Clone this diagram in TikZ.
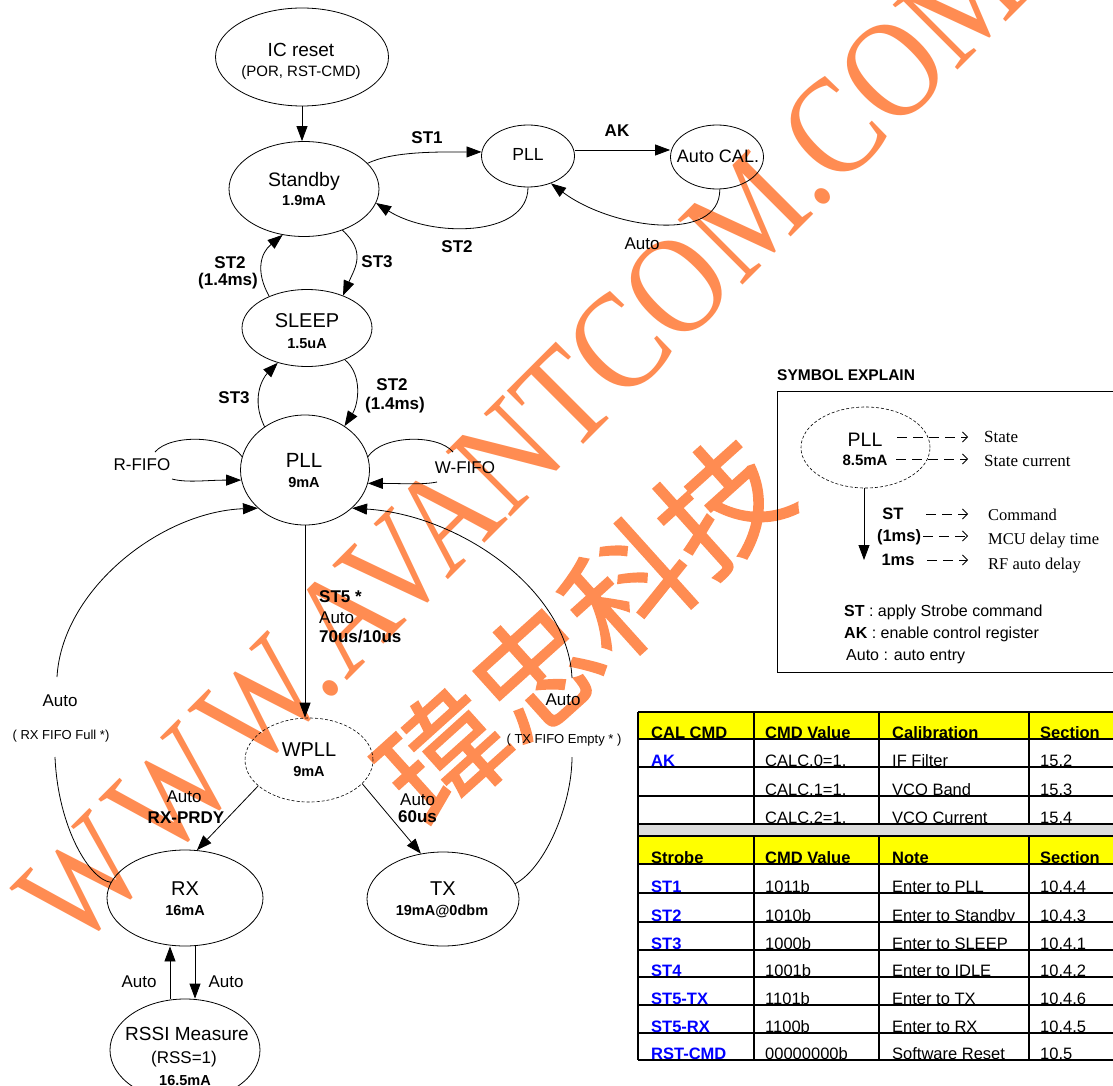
\documentclass[tikz,border=0pt]{standalone}
\usepackage{graphicx}
\usepackage{fontspec}
\setmainfont{Liberation Sans}
\newfontfamily\serifT{Liberation Serif}
\newfontfamily\cjk[FakeBold=1.2]{Noto Sans CJK TC}
\usetikzlibrary{shapes.geometric,arrows.meta,calc}
\definecolor{wmorange}{RGB}{255,140,82}
\definecolor{tblue}{RGB}{0,0,255}
\definecolor{tyellow}{RGB}{255,255,0}
\definecolor{tgray}{RGB}{220,220,220}
\newcommand\fsz[1]{\fontsize{#1}{#1}\selectfont}
\begin{document}
\begin{tikzpicture}[x=1pt,y=-1pt,
  stateE/.style={draw, ellipse, inner sep=0pt, line width=0.8pt},
  dashE/.style={stateE, dash pattern=on 3pt off 2pt, line width=0.6pt},
  arr/.style={-{Triangle[length=15pt,width=11pt]}, line width=0.8pt},
  ln/.style={line width=0.8pt},
  dsh/.style={line width=0.8pt, dash pattern=on 10pt off 6pt, -{Straight Barb[length=5pt,width=10pt]}},
  txt/.style={inner sep=0pt, anchor=base},
  nm/.style={txt, font=\fsz{20}},
  cur/.style={txt, font=\fsz{14.5}\bfseries},
  lab/.style={txt, font=\fsz{17}\bfseries},
  alab/.style={txt, font=\fsz{17}},
  small/.style={txt, font=\fsz{13}},
  serifl/.style={txt, anchor=base west, font=\serifT\fsz{17}},
  tbl/.style={txt, anchor=base west, font=\fsz{16.5}},
  tbh/.style={tbl, font=\fsz{16.5}\bfseries},
  tbb/.style={tbl, font=\fsz{16.5}\bfseries, text=tblue},
  wmtxt/.style={inner sep=0pt, text=wmorange, font=\serifT\fsz{140}},
  wmcjk/.style={inner sep=0pt, text=wmorange, font=\cjk\fsz{125}},
  grid/.style={line width=1.6pt}
]
\useasboundingbox (0,0) rectangle (1113,1086);
\clip (0,0) rectangle (1113,1086);
\fill[white] (0,0) rectangle (1113,1086);

% ---------- watermark ----------
\node[wmtxt, rotate=45, anchor=base east] (wmA) at (346,682) {\scalebox{0.86}[1]{W\kern14pt W\kern14pt W.}};
\node[wmtxt, rotate=45, anchor=base west] (wmB) at (346,682) {\scalebox{0.86}[1]{AVANTCOM.COM}};
\node[wmcjk, rotate=42] (wmC) at (582,630) {瑋忠科技};

% ---------- states ----------
\node[stateE, minimum width=173pt, minimum height=98pt] (icr) at (302,57) {};
\node[stateE, minimum width=150pt, minimum height=95pt] (stb) at (304,189) {};
\node[stateE, minimum width=93pt, minimum height=62pt] (pllt) at (528,156) {};
\node[stateE, minimum width=93pt, minimum height=64pt] (acal) at (717,157) {};
\node[stateE, minimum width=130pt, minimum height=77pt] (slp) at (307,328) {};
\node[stateE, minimum width=129pt, minimum height=110pt] (pll) at (305,470) {};
\node[dashE, minimum width=128pt, minimum height=84pt] (wpll) at (309,760) {};
\node[stateE, minimum width=156pt, minimum height=96pt] (rx) at (185,898) {};
\node[stateE, minimum width=152pt, minimum height=94pt] (tx) at (443,899) {};
\node[stateE, minimum width=150pt, minimum height=102pt] (rssi) at (185,1050) {};

% state texts
\node[txt, font=\fsz{19}] (icrT) at (301,57) {IC reset};
\node[txt, font=\fsz{15}] (icrS) at (301,77) {(POR, RST-CMD)};
\node[txt, font=\fsz{19.5}] (stbT) at (304,186) {Standby};
\node[cur] (stbC) at (304,206) {1.9mA};
\node[txt, font=\fsz{17.5}] (plltT) at (528,161) {PLL};
\node[txt, font=\fsz{18}] (acalT) at (718,163) {Auto CAL.};
\node[nm] (slpT) at (307,327) {SLEEP};
\node[cur] (slpC) at (307,348) {1.5uA};
\node[txt, font=\fsz{20.5}] (pllT) at (304,467) {PLL};
\node[cur] (pllC) at (304,487) {9mA};
\node[nm] (wpllT) at (309,756) {WPLL};
\node[cur] (wpllC) at (309,776) {9mA};
\node[nm] (rxT) at (185,895) {RX};
\node[cur] (rxC) at (185,915) {16mA};
\node[nm] (txT) at (443,895) {TX};
\node[cur] (txC) at (442,915) {19mA@0dbm};
\node[txt, font=\fsz{19}] (rssiT) at (187,1040) {RSSI Measure};
\node[txt, font=\fsz{17}] (rssiS) at (184,1063) {(RSS=1)};
\node[cur] (rssiC) at (185,1085) {16.5mA};

% ---------- connectors ----------
\draw[arr] (icr.south) -- (icr.south |- stb.north);
\draw[arr] (stb.22) .. controls +(25,-12) and +(-45,0) .. (pllt.175);
\draw[arr] (pllt.south) .. controls +(0,50) and +(55,35) .. (stb.-11);
\draw[arr] ([yshift=6pt]pllt.east) -- ([yshift=6pt]pllt.east -| acal.west);
\draw[arr] (acal.-85) .. controls +(0,55) and +(60,45) .. (pllt.-50);
\draw[arr] (stb.-47) .. controls +(24,22) and +(12,-28) .. (slp.42);
\draw[arr] (slp.140) .. controls +(-14,-25) and +(-22,18) .. (stb.-115);
\draw[arr] (pll.133) .. controls +(-14,-28) and +(-15,15) .. (slp.-130);
\draw[arr] (slp.-40) .. controls +(18,15) and +(14,-22) .. (pll.48);

% R-FIFO / W-FIFO loops
\coordinate (rfA) at (155,452); \coordinate (rfB) at (172,479);
\draw[ln] (pll.168) .. controls +(-15,-22) and +(15,-18) .. (rfA);
\draw[arr] (rfB) .. controls +(15,4) and +(-35,0) .. (pll.-171);
\coordinate (wfA) at (453,452); \coordinate (wfB) at (437,482);
\draw[ln] (pll.12) .. controls +(15,-22) and +(-15,-18) .. (wfA);
\draw[arr] (wfB) .. controls +(-15,3) and +(35,0) .. (pll.-12);

% PLL -> WPLL
\draw[arr] (pll.south) -- (pll.south |- wpll.north);

% big side arcs
\coordinate (laTop) at (57,677); \coordinate (laBot) at (55,757);
\draw[arr] (laTop) .. controls (62,590) and (160,512) .. (pll.-141);
\draw[ln] (rx.168) .. controls (90,880) and (58,828) .. (laBot);
\coordinate (raTop) at (572,678); \coordinate (raBot) at (572,757);
\draw[arr] (raTop) .. controls (568,590) and (460,515) .. (pll.-39);
\draw[ln] (tx.12) .. controls (545,868) and (572,805) .. (raBot);

% WPLL -> RX / TX
\draw[arr] (wpll.-153) -- (rx.76);
\draw[arr] (wpll.-24) -- (tx.116);
% RX <-> RSSI
\draw[arr] ([xshift=-15pt]rssi.north) -- ([xshift=-15pt]rx.south);
\draw[arr] ([xshift=10pt]rx.south) -- ([xshift=10pt]rssi.north);

% ---------- connector labels ----------
\node[lab] (lST1) at (427,144) {ST1};
\node[lab] (lST2a) at (457,252) {ST2};
\node[lab] (lAK) at (617,137) {AK};
\node[alab] (lAuto1) at (642,249) {Auto};
\node[lab] (lST2b) at (230,268) {ST2};
\node[lab] (lST2bt) at (228,285) {(1.4ms)};
\node[lab] (lST3a) at (377,267) {ST3};
\node[lab] (lST3b) at (234,403) {ST3};
\node[lab] (lST2c) at (392,390) {ST2};
\node[lab] (lST2ct) at (395,409) {(1.4ms)};
\node[alab] (lRF) at (142,470) {R-FIFO};
\node[alab] (lWF) at (465,473) {W-FIFO};
\node[lab, anchor=base west] (lST5) at (319,602) {ST5 *};
\node[alab, anchor=base west] (lAuto2) at (319,623) {Auto};
\node[lab, anchor=base west] (l70) at (319,642) {70us/10us};
\node[alab] (lAuto3) at (60,706) {Auto};
\node[small] (lRXF) at (61,739) {( RX FIFO Full *)};
\node[alab] (lAuto4) at (563,705) {Auto};
\node[small] (lTXF) at (564,743) {( TX FIFO Empty * )};
\node[alab] (lAuto5) at (184,802) {Auto};
\node[lab] (lPRDY) at (186,823) {RX-PRDY};
\node[alab, anchor=base west] (lAuto6) at (400,805) {Auto};
\node[lab, anchor=base west] (l60) at (398,822) {60us};
\node[alab] (lAuto7) at (139,987) {Auto};
\node[alab] (lAuto8) at (226,987) {Auto};

% ---------- symbol explain ----------
\node[txt, anchor=base west, font=\fsz{15.5}\bfseries] (seT) at (777,380) {SYMBOL EXPLAIN};
\draw[line width=0.8pt] (777,391) rectangle (1125,672);
\node[dashE, minimum width=129pt, minimum height=81pt] (lgE) at (865.5,447.5) {};
\node[txt, font=\fsz{19.5}] (lgP) at (865,446) {PLL};
\node[txt, font=\fsz{15}\bfseries] (lgC) at (865,465) {8.5mA};
\coordinate (d1s) at (897,437); \coordinate (d1e) at (968,437);
\coordinate (d2s) at (896,459); \coordinate (d2e) at (968,459);
\draw[dsh] (d1s) -- (d1e);
\draw[dsh] (d2s) -- (d2e);
\node[serifl] (lgS1) at (984,442) {State};
\node[serifl] (lgS2) at (984,466) {State current};
\coordinate (lgTip) at (864,560);
\draw[arr] (lgE.south -| lgTip) -- (lgTip);
\node[txt, font=\fsz{16.5}\bfseries] (lgST) at (893,519) {ST};
\node[txt, font=\fsz{16.5}\bfseries] (lg1a) at (899,541) {(1ms)};
\node[txt, font=\fsz{16.5}\bfseries] (lg1b) at (898,565) {1ms};
\coordinate (d3s) at (926,514); \coordinate (d3e) at (968,514);
\coordinate (d4s) at (923,536); \coordinate (d4e) at (968,536);
\coordinate (d5s) at (927,560); \coordinate (d5e) at (968,560);
\draw[dsh] (d3s) -- (d3e);
\draw[dsh] (d4s) -- (d4e);
\draw[dsh] (d5s) -- (d5e);
\node[serifl, font=\serifT\fsz{16.5}] (lgCm) at (988,520) {Command};
\node[serifl, font=\serifT\fsz{16.5}] (lgMc) at (988,544) {MCU delay time};
\node[serifl, font=\serifT\fsz{16.5}] (lgRf) at (988,569) {RF auto delay};
\node[txt, anchor=base west, font=\fsz{16}] (lgL1) at (844,616) {\textbf{ST} : apply Strobe command};
\node[txt, anchor=base west, font=\fsz{16}] (lgL2) at (844,638) {\textbf{AK} : enable control register};
\node[txt, anchor=base west, font=\fsz{16}] (lgL3) at (846,660) {Auto : auto entry};

% ---------- tables ----------
\fill[tyellow] (638,712) rectangle (1125,739);
\fill[tgray] (638,824) rectangle (1125,836);
\fill[tyellow] (638,836) rectangle (1125,864);
% table 1
\node[tbh] (h1a) at (651,738.5) {CAL CMD};
\node[tbh] (h1b) at (765,738.5) {CMD Value};
\node[tbh] (h1c) at (892,738.5) {Calibration};
\node[tbh] (h1d) at (1040,738.5) {Section};
\node[tbb] (r1a) at (651,766.5) {AK};
\node[tbl] (r1b) at (765,766.5) {CALC.0=1.};
\node[tbl] (r1c) at (892,766.5) {IF Filter};
\node[tbl] (r1d) at (1040,766.5) {15.2};
\node[tbl] (r2b) at (765,795.5) {CALC.1=1.};
\node[tbl] (r2c) at (892,795.5) {VCO Band};
\node[tbl] (r2d) at (1040,795.5) {15.3};
\node[tbl] (r3b) at (765,823.5) {CALC.2=1.};
\node[tbl] (r3c) at (892,823.5) {VCO Current};
\node[tbl] (r3d) at (1040,823.5) {15.4};
% table 2
\node[tbh] (h2a) at (651,863.5) {Strobe};
\node[tbh] (h2b) at (765,863.5) {CMD Value};
\node[tbh] (h2c) at (892,863.5) {Note};
\node[tbh] (h2d) at (1040,863.5) {Section};
\foreach \yy/\ca/\cb/\cc/\cd [count=\i] in {892.5/ST1/1011b/Enter to PLL/10.4.4,
  921.5/ST2/1010b/Enter to Standby/10.4.3,
  949.5/ST3/1000b/Enter to SLEEP/10.4.1,
  976.5/ST4/1001b/Enter to IDLE/10.4.2,
  1004.5/ST5-TX/1101b/Enter to TX/10.4.6,
  1032.5/ST5-RX/1100b/Enter to RX/10.4.5,
  1059.5/RST-CMD/00000000b/Software Reset/10.5}{
  \node[tbb] (s\i a) at (651,\yy) {\ca};
  \node[tbl] (s\i b) at (765,\yy) {\cb};
  \node[tbl] (s\i c) at (892,\yy) {\cc};
  \node[tbl] (s\i d) at (1040,\yy) {\cd};
}
% masks to clip descenders
\foreach \yy in {739,767,796,864,893,922,950,977,1005,1033,1060}{
  \fill[white] (639,\yy) rectangle (1125,\yy+6);
}
\fill[tgray] (639,824) rectangle (1125,830);
% grid
\foreach \yy in {712,739,767,796,824,836,864,893,922,950,977,1005,1033,1060}{
  \draw[grid] (638,\yy) -- (1125,\yy);
}
\draw[grid] (638,712) -- (638,1060);
\foreach \xx in {754,879,1029}{
  \draw[grid] (\xx,712) -- (\xx,824);
  \draw[grid] (\xx,836) -- (\xx,1060);
}
\end{tikzpicture}
\end{document}
